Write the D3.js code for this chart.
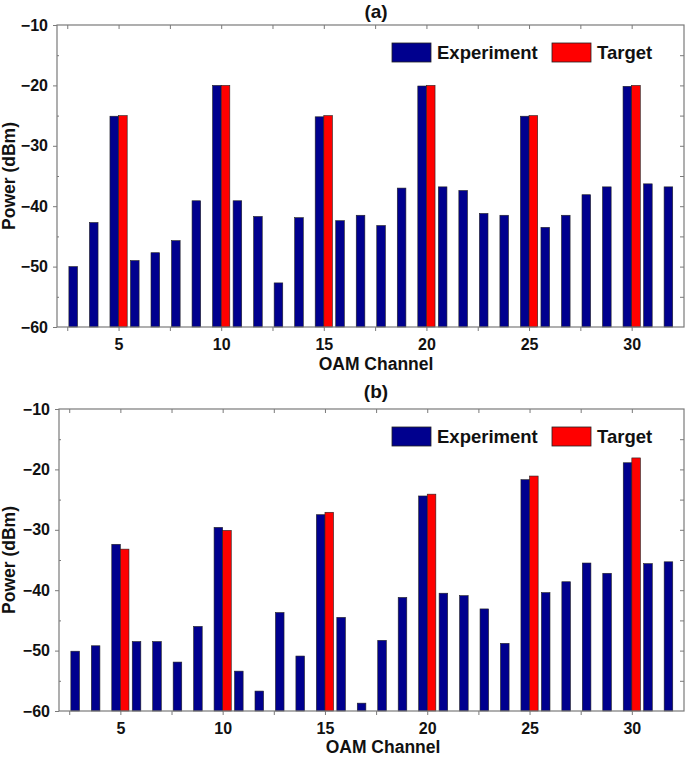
<!DOCTYPE html>
<html><head><meta charset="utf-8">
<script src="https://cdn.jsdelivr.net/npm/d3@7/dist/d3.min.js"></script>
<style>body{margin:0;background:#fff}svg{display:block}text{font-family:"Liberation Sans",Arial,sans-serif;font-weight:bold;fill:#111}</style>
</head><body><svg id="c" width="685" height="758"></svg>
<script>
const channels = [3,4,5,6,7,8,9,10,11,12,13,14,15,16,17,18,19,20,21,22,23,24,25,26,27,28,29,30,31,32];
const expA = [-50.0,-42.7,-25.1,-49.0,-47.7,-45.7,-39.1,-20.0,-39.1,-41.7,-52.7,-41.9,-25.2,-42.4,-41.5,-43.2,-37.0,-20.1,-36.8,-37.4,-41.2,-41.5,-25.1,-43.5,-41.5,-38.1,-36.8,-20.15,-36.3,-36.8];
const tgtA = [null,null,-25.0,null,null,null,null,-20.0,null,null,null,null,-25.0,null,null,null,null,-20.0,null,null,null,null,-25.0,null,null,null,null,-20.0,null,null];
const expB = [-50.1,-49.2,-32.4,-48.5,-48.5,-51.9,-46.0,-29.6,-53.4,-56.7,-43.7,-50.9,-27.5,-44.5,-58.7,-48.3,-41.2,-24.4,-40.5,-40.9,-43.1,-48.8,-21.7,-40.4,-38.6,-35.5,-37.2,-18.9,-35.6,-35.3];
const tgtB = [null,null,-33.2,null,null,null,null,-30.1,null,null,null,null,-27.1,null,null,null,null,-24.1,null,null,null,null,-21.1,null,null,null,null,-18.1,null,null];
const xTicks = [5,10,15,20,25,30];
const yTicks = [-10,-20,-30,-40,-50,-60];
const seriesNames = ["Experiment","Target"];
const colors = ["#00008e","#ff0000"];

const svg = d3.select("#c");
const panels = [
  {title:"(a)", exp:expA, tgt:tgtA, top:25, bottom:327, left:57, right:684, titleX:376, titleY:18, xlabX:376, xlabY:370, legY:43},
  {title:"(b)", exp:expB, tgt:tgtB, top:409, bottom:711, left:59, right:684, titleX:376, titleY:398, xlabX:383, xlabY:753, legY:427}
];
const axisCol = "#7a7a7a";
const bw = 0.42;

panels.forEach(p => {
  const g = svg.append("g");
  const x = d3.scaleLinear().domain([2, 32.55]).range([p.left, p.right]);
  const y = d3.scaleLinear().domain([-60, -10]).range([p.bottom, p.top]);

  channels.forEach((c, i) => {
    const e = p.exp[i];
    g.append("rect").attr("x", x(c - bw)).attr("width", x(c) - x(c - bw))
      .attr("y", y(e)).attr("height", y(-60) - y(e))
      .attr("fill", colors[0]).attr("stroke", "#222").attr("stroke-width", 0.6);
    const t = p.tgt[i];
    if (t !== null) {
      g.append("rect").attr("x", x(c)).attr("width", x(c + bw) - x(c))
        .attr("y", y(t)).attr("height", y(-60) - y(t))
        .attr("fill", colors[1]).attr("stroke", "#222").attr("stroke-width", 0.6);
    }
  });

  g.append("rect").attr("x", p.left).attr("y", p.top).attr("width", p.right - p.left).attr("height", p.bottom - p.top)
    .attr("fill", "none").attr("stroke", axisCol).attr("stroke-width", 1.2);

  const fontStyle = s => s.attr("font-size", 16).style("font-family", "Liberation Sans, Arial").style("font-weight","bold").attr("fill","#111");
  const minorX = d3.range(2.5, 32.5, 2.5);
  g.append("g").attr("transform", `translate(0,${p.bottom})`).call(d3.axisBottom(x).tickValues(minorX).tickSize(4).tickFormat(""))
    .call(s => { s.select(".domain").remove(); s.selectAll("line").attr("stroke", axisCol); });
  g.append("g").attr("transform", `translate(0,${p.bottom})`).call(d3.axisBottom(x).tickValues(xTicks).tickSize(0).tickPadding(12))
    .call(s => { s.select(".domain").remove(); fontStyle(s.selectAll("text")); });
  g.append("g").attr("transform", `translate(0,${p.top})`).call(d3.axisBottom(x).tickValues(minorX).tickSize(4).tickFormat(""))
    .call(s => { s.select(".domain").remove(); s.selectAll("line").attr("stroke", axisCol); });

  g.append("g").attr("transform", `translate(${p.left},0)`).call(d3.axisLeft(y).tickValues(yTicks).tickSize(4).tickPadding(5))
    .call(s => { s.select(".domain").remove(); s.selectAll("line").attr("stroke", axisCol); fontStyle(s.selectAll("text")); });
  g.append("g").attr("transform", `translate(${p.left},0)`).call(d3.axisRight(y).tickValues([-15,-25,-35,-45,-55]).tickSize(2).tickFormat(""))
    .call(s => { s.select(".domain").remove(); s.selectAll("line").attr("stroke", axisCol); });
  g.append("g").attr("transform", `translate(${p.right},0)`).call(d3.axisLeft(y).tickValues(d3.range(-55, -10, 5)).tickSize(4).tickFormat(""))
    .call(s => { s.select(".domain").remove(); s.selectAll("line").attr("stroke", axisCol); });

  g.append("text").attr("x", p.titleX).attr("y", p.titleY).attr("text-anchor", "middle").attr("font-size", 19).text(p.title);
  g.append("text").attr("x", p.xlabX).attr("y", p.xlabY).attr("text-anchor", "middle").attr("font-size", 17.5).text("OAM Channel");
  g.append("text").attr("transform", `translate(15,${(p.top + p.bottom) / 2}) rotate(-90)`).attr("text-anchor", "middle").attr("font-size", 17.5).text("Power (dBm)");

  const lg = g.append("g").attr("transform", `translate(392,${p.legY})`);
  lg.append("rect").attr("width", 39).attr("height", 19).attr("fill", colors[0]).attr("stroke", "#222").attr("stroke-width", 0.8);
  lg.append("text").attr("x", 45).attr("y", 16).attr("font-size", 18.5).text(seriesNames[0]);
  lg.append("rect").attr("x", 160).attr("width", 39).attr("height", 19).attr("fill", colors[1]).attr("stroke", "#222").attr("stroke-width", 0.8);
  lg.append("text").attr("x", 205).attr("y", 16).attr("font-size", 18.5).text(seriesNames[1]);
});
</script></body></html>
